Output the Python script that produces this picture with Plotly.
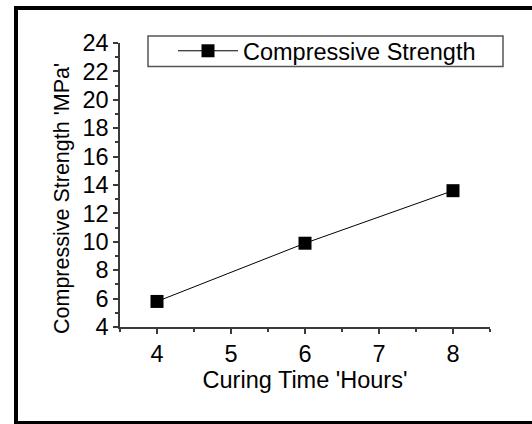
import plotly.graph_objects as go

curing_time = [4, 6, 8]
compressive_strength = [5.8, 9.9, 13.6]
series_name = "Compressive Strength"
x_title = "Curing Time 'Hours'"
y_title = "Compressive Strength 'MPa'"

W, H = 532, 424
L, R, T, B = 120, 42, 43, 97
pw, ph = W - L - R, H - T - B

def px(xp):
    return (xp - L) / pw

def py(yp):
    return (H - B - yp) / ph

FONT = "Liberation Sans, Arial, sans-serif"
AX = "#3a3a3a"
FS = 23.5

fig = go.Figure()
fig.add_trace(go.Scatter(
    x=curing_time, y=compressive_strength, name=series_name,
    mode="lines+markers",
    line=dict(color="black", width=1),
    marker=dict(symbol="square", size=13, color="black"),
))

axis_common = dict(
    showline=True, linecolor=AX, linewidth=1.5,
    ticks="outside", ticklen=5, tickwidth=1.5, tickcolor=AX,
    showgrid=False, zeroline=False, mirror=False,
    tickfont=dict(family=FONT, size=FS, color="black"),
)

fig.update_xaxes(
    range=[3.5, 8.5], dtick=1, tick0=4,
    minor=dict(dtick=0.5, tick0=3.5, ticks="outside", ticklen=3, tickwidth=1.5, tickcolor=AX, showgrid=False),
    title=dict(text=x_title, font=dict(family=FONT, size=FS, color="black"), standoff=4),
    **axis_common,
)
fig.update_yaxes(
    range=[4, 24], dtick=2, tick0=4,
    minor=dict(dtick=1, ticks="outside", ticklen=3, tickwidth=1.5, tickcolor=AX, showgrid=False),
    **axis_common,
)

shapes = [
    # outer frame
    dict(type="rect", xref="paper", yref="paper",
         x0=px(16), x1=px(560), y0=py(423), y1=py(8),
         line=dict(color="black", width=4), layer="below"),
    # legend box
    dict(type="rect", xref="paper", yref="paper",
         x0=px(148), x1=px(503), y0=py(66.5), y1=py(36),
         line=dict(color="#555555", width=1.5), fillcolor="white", layer="below"),
]

annotations = [
    dict(text=y_title, xref="paper", yref="paper", x=px(62), y=py(199),
         xanchor="center", yanchor="middle", textangle=-90, showarrow=False,
         font=dict(family=FONT, size=21.5, color="black")),
]

fig.update_layout(
    width=W, height=H,
    margin=dict(l=L, r=R, t=T, b=B),
    paper_bgcolor="white", plot_bgcolor="white",
    font=dict(family=FONT, size=FS, color="black"),
    showlegend=True,
    legend=dict(
        x=px(173), y=py(51), xanchor="left", yanchor="middle",
        bgcolor="rgba(0,0,0,0)", borderwidth=0, itemwidth=60,
        font=dict(family=FONT, size=FS, color="black"),
    ),
    shapes=shapes,
    annotations=annotations,
)

fig.write_html("out.html")
